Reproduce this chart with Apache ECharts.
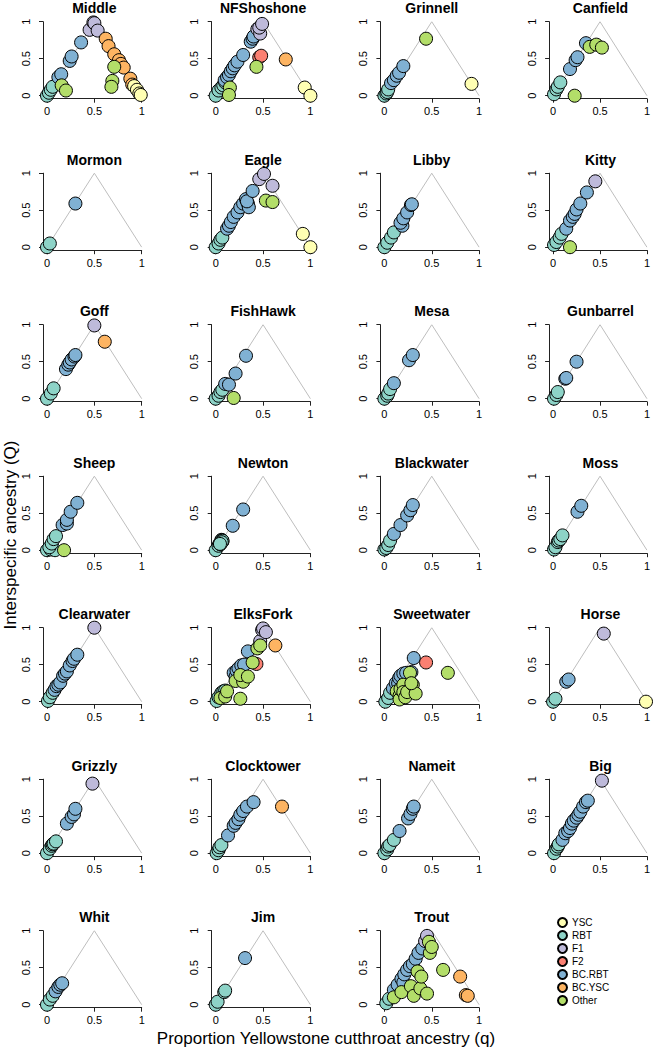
<!DOCTYPE html>
<html><head><meta charset="utf-8">
<script src="https://cdn.jsdelivr.net/npm/echarts@6/dist/echarts.min.js"></script>
<style>html,body{margin:0;padding:0;background:#fff}#c{width:653px;height:1050px}</style>
</head><body><div id="c"></div>
<script>
// ---- data ----
const streams = ['Middle','NFShoshone','Grinnell','Canfield','Mormon','Eagle','Libby','Kitty',
  'Goff','FishHawk','Mesa','Gunbarrel','Sheep','Newton','Blackwater','Moss',
  'Clearwater','ElksFork','Sweetwater','Horse','Grizzly','Clocktower','Nameit','Big',
  'Whit','Jim','Trout'];
const groups = ['YSC','RBT','F1','F2','BC.RBT','BC.YSC','Other'];
const xTicks = [0, 0.5, 1];
const yTicks = [0, 0.5, 1];
const xTitle = 'Proportion Yellowstone cutthroat ancestry (q)';
const yTitle = 'Interspecific ancestry (Q)';

// each point: [group, q, Q]
const Middle = [['RBT',0,0],['RBT',0.02,0.04],['RBT',0.04,0.08],['RBT',0.06,0.12],
 ['BC.RBT',0.12,0.25],['BC.RBT',0.15,0.29],['BC.RBT',0.24,0.47],['BC.RBT',0.26,0.53],['BC.RBT',0.36,0.72],
 ['F1',0.45,0.89],['F1',0.49,0.99],['F1',0.5,0.98],['F1',0.535,0.88],
 ['BC.YSC',0.62,0.77],['BC.YSC',0.65,0.67],['BC.YSC',0.71,0.56],['BC.YSC',0.76,0.48],['BC.YSC',0.78,0.43],['BC.YSC',0.81,0.38],['BC.YSC',0.88,0.23],['BC.YSC',0.9,0.15],
 ['YSC',0.92,0.13],['YSC',0.95,0.08],['YSC',0.975,0.03],['YSC',0.99,0.01],
 ['Other',0.155,0.14],['Other',0.2,0.07],['Other',0.69,0.2],['Other',0.68,0.12],['Other',0.71,0.39]];
const NFShoshone = [['RBT',0,0],['RBT',0.03,0.07],['RBT',0.06,0.11],['RBT',0.08,0.14],['RBT',0.1,0.18],
 ['BC.RBT',0.095,0.21],['BC.RBT',0.12,0.25],['BC.RBT',0.14,0.28],['BC.RBT',0.16,0.33],['BC.RBT',0.18,0.37],['BC.RBT',0.2,0.41],['BC.RBT',0.23,0.46],['BC.RBT',0.29,0.55],['BC.RBT',0.37,0.73],['BC.RBT',0.39,0.77],['BC.RBT',0.4,0.8],
 ['F1',0.44,0.9],['F1',0.47,0.84],['F1',0.46,0.92],['F1',0.49,0.97],
 ['F2',0.46,0.52],['F2',0.48,0.54],['BC.YSC',0.74,0.49],['YSC',0.94,0.11],['YSC',1.0,0.0],
 ['Other',0.15,0.11],['Other',0.14,0.01],['Other',0.43,0.39]];
const Grinnell = [['RBT',0,0],['RBT',0.02,0.03],['RBT',0.03,0.05],['RBT',0.04,0.085],
 ['BC.RBT',0.07,0.17],['BC.RBT',0.1,0.21],['BC.RBT',0.13,0.27],['BC.RBT',0.155,0.31],['BC.RBT',0.2,0.4],
 ['Other',0.44,0.77],['YSC',0.92,0.16]];
const Canfield = [['RBT',0.01,0.02],['RBT',0.035,0.085],['RBT',0.05,0.12],['RBT',0.077,0.18],
 ['BC.RBT',0.18,0.36],['BC.RBT',0.24,0.48],['BC.RBT',0.26,0.52],['BC.RBT',0.35,0.71],
 ['Other',0.23,0],['Other',0.39,0.66],['Other',0.46,0.69],['Other',0.52,0.65]];
const Mormon = [['RBT',0,0],['RBT',0.03,0.05],['BC.RBT',0.3,0.59]];
const Eagle = [['RBT',0,0],['RBT',0.03,0.05],['RBT',0.05,0.1],['RBT',0.07,0.13],
 ['BC.RBT',0.12,0.25],['BC.RBT',0.14,0.29],['BC.RBT',0.16,0.34],['BC.RBT',0.19,0.41],['BC.RBT',0.23,0.47],['BC.RBT',0.26,0.54],['BC.RBT',0.29,0.59],['BC.RBT',0.32,0.65],['BC.RBT',0.34,0.59],['BC.RBT',0.35,0.54],['BC.RBT',0.33,0.62],['BC.RBT',0.39,0.76],
 ['F1',0.46,0.92],['F1',0.51,0.99],['F1',0.6,0.83],['Other',0.53,0.63],['Other',0.6,0.61],
 ['YSC',0.92,0.18],['YSC',1.0,0]];
const Libby = [['RBT',0,0],['RBT',0.03,0.06],['RBT',0.07,0.13],['RBT',0.1,0.2],
 ['BC.RBT',0.19,0.29],['BC.RBT',0.17,0.33],['BC.RBT',0.2,0.39],['BC.RBT',0.24,0.47],['BC.RBT',0.28,0.57],['BC.RBT',0.29,0.58]];
const Kitty = [['RBT',0.01,0.03],['RBT',0.035,0.07],['RBT',0.07,0.13],['RBT',0.09,0.18],
 ['BC.RBT',0.14,0.25],['BC.RBT',0.18,0.36],['BC.RBT',0.21,0.41],['BC.RBT',0.23,0.45],['BC.RBT',0.25,0.51],['BC.RBT',0.29,0.59],['BC.RBT',0.36,0.74],
 ['F1',0.45,0.89],['Other',0.18,0]];
const Goff = [['RBT',0,0],['RBT',0.04,0.07],['RBT',0.07,0.14],
 ['BC.RBT',0.2,0.4],['BC.RBT',0.225,0.46],['BC.RBT',0.24,0.49],['BC.RBT',0.26,0.53],['BC.RBT',0.29,0.57],['BC.RBT',0.3,0.59],
 ['F1',0.5,0.99],['BC.YSC',0.61,0.77]];
const FishHawk = [['RBT',0,0],['RBT',0.03,0.04],['RBT',0.05,0.09],['RBT',0.07,0.12],
 ['BC.RBT',0.1,0.2],['BC.RBT',0.14,0.19],['BC.RBT',0.21,0.34],['BC.RBT',0.32,0.58],['Other',0.19,0.01]];
const Mesa = [['RBT',0,0],['RBT',0.03,0.04],['RBT',0.04,0.07],['RBT',0.06,0.13],
 ['BC.RBT',0.1,0.21],['BC.RBT',0.26,0.52],['BC.RBT',0.3,0.59]];
const Gunbarrel = [['RBT',0.01,0],['RBT',0.035,0.05],['RBT',0.05,0.09],
 ['BC.RBT',0.13,0.27],['BC.RBT',0.14,0.28],['BC.RBT',0.25,0.5]];
const Sheep = [['RBT',0,0],['RBT',0.04,0.01],['RBT',0.085,0],['RBT',0.025,0.04],['RBT',0.05,0.09],['RBT',0.07,0.15],['RBT',0.095,0.19],
 ['BC.RBT',0.165,0.34],['BC.RBT',0.21,0.36],['BC.RBT',0.21,0.41],['BC.RBT',0.25,0.52],['BC.RBT',0.32,0.64],['Other',0.18,0]];
const Newton = [['RBT',0,0],['RBT',0.03,0.06],['RBT',0.04,0.09],['RBT',0.05,0.1],['RBT',0.055,0.11],['RBT',0.06,0.12],['RBT',0.065,0.13],['RBT',0.07,0.115],['RBT',0.06,0.14],['RBT',0.05,0.08],
 ['RBT',0.062,0.125],['RBT',0.068,0.135],['RBT',0.058,0.118],['RBT',0.072,0.128],['RBT',0.064,0.108],['RBT',0.045,0.085],
 ['BC.RBT',0.18,0.33],['BC.RBT',0.29,0.55]];
const Blackwater = [['RBT',0,0.01],['RBT',0.02,0.03],['RBT',0.04,0.07],['RBT',0.06,0.13],
 ['BC.RBT',0.1,0.22],['BC.RBT',0.17,0.34],['BC.RBT',0.24,0.47],['BC.RBT',0.275,0.54],['BC.RBT',0.3,0.61]];
const Moss = [['RBT',0.01,0.01],['RBT',0.025,0.04],['RBT',0.05,0.11],['RBT',0.06,0.13],['RBT',0.077,0.15],['RBT',0.1,0.2],
 ['BC.RBT',0.26,0.52],['BC.RBT',0.3,0.6]];
const Clearwater = [['RBT',0.01,0.01],['RBT',0.03,0.06],['RBT',0.06,0.12],
 ['BC.RBT',0.08,0.16],['BC.RBT',0.1,0.21],['BC.RBT',0.12,0.23],['BC.RBT',0.14,0.26],['BC.RBT',0.17,0.35],['BC.RBT',0.19,0.38],['BC.RBT',0.21,0.41],['BC.RBT',0.24,0.49],['BC.RBT',0.27,0.55],['BC.RBT',0.285,0.58],['BC.RBT',0.32,0.635],
 ['F1',0.5,1.0]];
const ElksFork = [['RBT',0.01,0.01],['RBT',0.03,0.06],['RBT',0.06,0.12],['RBT',0.08,0.14],['RBT',0.1,0.15],
 ['BC.RBT',0.19,0.39],['BC.RBT',0.21,0.34],['BC.RBT',0.22,0.42],['BC.RBT',0.24,0.45],['BC.RBT',0.27,0.49],['BC.RBT',0.3,0.5],['BC.RBT',0.34,0.68],
 ['F2',0.43,0.51],['F1',0.47,0.82],['F1',0.49,0.97],['F1',0.5,0.99],['F1',0.53,0.94],['BC.YSC',0.63,0.76],
 ['Other',0.05,0.05],['Other',0.1,0.07],['Other',0.12,0.14],['Other',0.26,0.04],['Other',0.21,0.28],['Other',0.29,0.27],['Other',0.26,0.36],['Other',0.34,0.34],['Other',0.39,0.53],['Other',0.44,0.72],['Other',0.47,0.76]];
const Sweetwater = [['RBT',0.01,0],['RBT',0.04,0.05],['RBT',0.06,0.12],
 ['BC.RBT',0.09,0.18],['BC.RBT',0.12,0.25],['BC.RBT',0.145,0.25],['BC.RBT',0.155,0.32],['BC.RBT',0.17,0.35],['BC.RBT',0.2,0.38],['BC.RBT',0.23,0.39],['BC.RBT',0.285,0.4],['BC.RBT',0.31,0.59],
 ['F2',0.44,0.53],
 ['Other',0.13,0.14],['Other',0.16,0.08],['Other',0.16,0.03],['Other',0.17,0.17],['Other',0.2,0.23],['Other',0.2,0.13],['Other',0.22,0.06],['Other',0.24,0.13],['Other',0.3,0.23],['Other',0.33,0.11],['Other',0.27,0.39],['Other',0.285,0.25],['Other',0.67,0.39]];
const Horse = [['RBT',0,0],['RBT',0.025,0.04],['BC.RBT',0.14,0.27],['BC.RBT',0.165,0.3],['F1',0.54,0.92],['YSC',0.99,0]];
const Grizzly = [['RBT',0,0],['RBT',0.03,0.06],['RBT',0.05,0.1],['RBT',0.06,0.12],['RBT',0.07,0.13],['RBT',0.095,0.16],
 ['BC.RBT',0.21,0.4],['BC.RBT',0.26,0.49],['BC.RBT',0.285,0.525],['BC.RBT',0.3,0.6],['F1',0.48,0.94]];
const Clocktower = [['RBT',0.01,0],['RBT',0.03,0.04],['RBT',0.04,0.08],['RBT',0.06,0.11],
 ['BC.RBT',0.13,0.24],['BC.RBT',0.19,0.37],['BC.RBT',0.21,0.41],['BC.RBT',0.24,0.46],['BC.RBT',0.26,0.52],['BC.RBT',0.29,0.57],['BC.RBT',0.33,0.63],['BC.RBT',0.4,0.69],
 ['BC.YSC',0.7,0.63]];
const Nameit = [['RBT',0,0],['RBT',0.03,0.05],['RBT',0.04,0.09],['RBT',0.055,0.11],['RBT',0.1,0.18],
 ['BC.RBT',0.16,0.3],['BC.RBT',0.25,0.47],['BC.RBT',0.275,0.53],['BC.RBT',0.3,0.6],['BC.RBT',0.31,0.63]];
const Big = [['RBT',0.01,0],['RBT',0.035,0.06],['RBT',0.05,0.09],['RBT',0.06,0.12],
 ['BC.RBT',0.1,0.18],['BC.RBT',0.13,0.27],['BC.RBT',0.16,0.3],['BC.RBT',0.18,0.34],['BC.RBT',0.2,0.4],['BC.RBT',0.22,0.44],['BC.RBT',0.25,0.48],['BC.RBT',0.27,0.52],['BC.RBT',0.29,0.56],['BC.RBT',0.32,0.63],['BC.RBT',0.35,0.69],['BC.RBT',0.37,0.71],
 ['F1',0.52,0.98]];
const Whit = [['RBT',0,0],['RBT',0.03,0.07],['RBT',0.06,0.12],
 ['BC.RBT',0.09,0.18],['BC.RBT',0.12,0.24],['BC.RBT',0.14,0.27],['BC.RBT',0.16,0.29]];
const Jim = [['RBT',0,0],['RBT',0.02,0.04],['RBT',0.09,0.17],['RBT',0.1,0.19],['BC.RBT',0.31,0.63]];
const Trout = [['RBT',0.02,0.02],['RBT',0.05,0.08],
 ['BC.RBT',0.1,0.2],['BC.RBT',0.14,0.27],['BC.RBT',0.18,0.35],['BC.RBT',0.2,0.3],['BC.RBT',0.21,0.41],['BC.RBT',0.24,0.47],['BC.RBT',0.27,0.52],['BC.RBT',0.3,0.55],['BC.RBT',0.33,0.62],['BC.RBT',0.36,0.7],['BC.RBT',0.4,0.76],
 ['F1',0.43,0.86],['F1',0.45,0.93],
 ['BC.YSC',0.8,0.38],['BC.YSC',0.86,0.13],['BC.YSC',0.88,0.12],
 ['Other',0.1,0.1],['Other',0.18,0.17],['Other',0.28,0.25],['Other',0.31,0.12],['Other',0.35,0.45],['Other',0.38,0.22],['Other',0.39,0.38],['Other',0.45,0.15],['Other',0.48,0.7],['Other',0.47,0.85],['Other',0.5,0.78],['Other',0.62,0.47]];

const streamData = {Middle,NFShoshone,Grinnell,Canfield,Mormon,Eagle,Libby,Kitty,Goff,FishHawk,Mesa,Gunbarrel,
  Sheep,Newton,Blackwater,Moss,Clearwater,ElksFork,Sweetwater,Horse,Grizzly,Clocktower,Nameit,Big,Whit,Jim,Trout};

// ---- styles / layout ----
const colors = {'YSC':'#FFFFB3','RBT':'#8DD3C7','F1':'#BEBADA','F2':'#FB8072','BC.RBT':'#80B1D3','BC.YSC':'#FDB462','Other':'#B3DE69'};
const drawOrder = ['RBT','BC.RBT','F1','F2','BC.YSC','YSC','Other'];
const FONT = '"Liberation Sans", Arial, Helvetica, sans-serif';
const colX0 = [47, 215.7, 384.4, 553.1];
const W = 94.7, H = 74, row0 = 95.7, rowStep = 151.5;

const grids = [], xAxes = [], yAxes = [], series = [], graphics = [];
streams.forEach((name, i) => {
  const r = Math.floor(i / 4), c = i % 4;
  const y0 = row0 + rowStep * r;
  grids.push({left: colX0[c], top: y0 - H, width: W, height: H});
  xAxes.push({gridIndex: i, type: 'value', min: xTicks[0], max: xTicks[xTicks.length-1], interval: 0.5, offset: 3,
    axisLine: {show: true, onZero: false, lineStyle: {color: '#222', width: 1}},
    axisTick: {show: true, length: 4, lineStyle: {color: '#222'}},
    axisLabel: {fontSize: 11, color: '#000', margin: 7, fontFamily: FONT},
    splitLine: {show: false}});
  yAxes.push({gridIndex: i, type: 'value', min: yTicks[0], max: yTicks[yTicks.length-1], interval: 0.5, offset: 4,
    axisLine: {show: true, onZero: false, lineStyle: {color: '#222', width: 1}},
    axisTick: {show: true, length: 4, lineStyle: {color: '#222'}},
    axisLabel: {fontSize: 11, color: '#000', margin: 12, rotate: 90, fontFamily: FONT},
    splitLine: {show: false}});
  series.push({type: 'line', xAxisIndex: i, yAxisIndex: i, data: [[0,0],[0.5,1],[1,0]], symbol: 'none',
    lineStyle: {color: '#BEBEBE', width: 1}, silent: true, z: 1, animation: false});
  const pts = streamData[name];
  drawOrder.forEach(g => {
    const d = pts.filter(p => p[0] === g).map(p => [p[1], p[2]]);
    if (!d.length) return;
    series.push({type: 'scatter', name: g, xAxisIndex: i, yAxisIndex: i, data: d, symbolSize: 13, clip: false,
      itemStyle: {color: colors[g], borderColor: '#000', borderWidth: 1, opacity: 1}, z: 2, animation: false});
  });
  graphics.push({type: 'text', x: colX0[c] + W / 2, y: y0 - 87.5,
    style: {text: name, font: 'bold 14px ' + FONT, fill: '#000', textAlign: 'center', textVerticalAlign: 'middle'}});
});
graphics.push({type: 'text', x: 10, y: 535, rotation: Math.PI / 2,
  style: {text: yTitle, font: '17px ' + FONT, fill: '#000', textAlign: 'center', textVerticalAlign: 'middle'}});
graphics.push({type: 'text', x: 326, y: 1038,
  style: {text: xTitle, font: '17px ' + FONT, fill: '#000', textAlign: 'center', textVerticalAlign: 'middle'}});

const chart = echarts.init(document.getElementById('c'), null, {renderer: 'svg'});
chart.setOption({
  animation: false,
  backgroundColor: '#fff',
  grid: grids, xAxis: xAxes, yAxis: yAxes, series: series,
  legend: {data: groups, orient: 'vertical', left: 557, top: 917, icon: 'circle', itemWidth: 9, itemHeight: 9,
    itemGap: 2, padding: 0, selectedMode: false, textStyle: {fontSize: 10, lineHeight: 11, color: '#000', fontFamily: FONT}},
  graphic: graphics
});
</script></body></html>
